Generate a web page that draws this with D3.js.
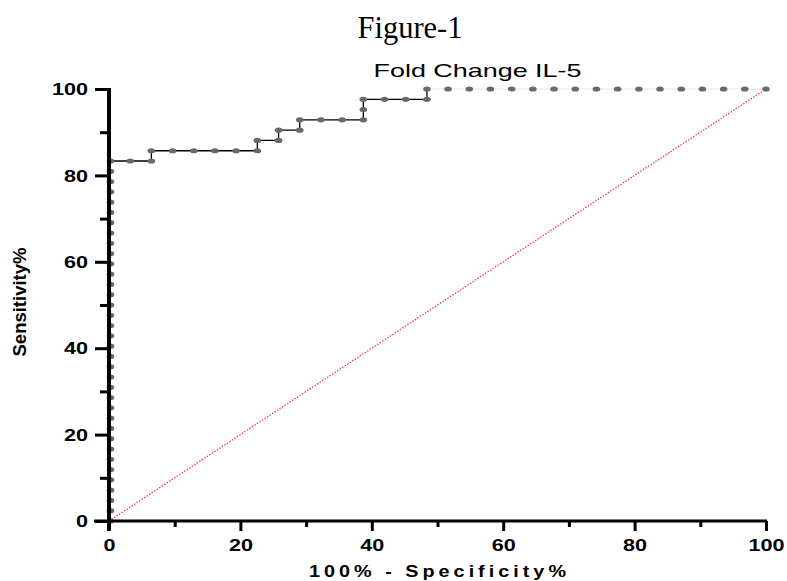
<!DOCTYPE html>
<html>
	<head>
		<title>Fold Change IL-5 ROC</title>

		<style>
		body {
			margin: 0;
			background: #fff;
		}

		svg {
			display: block;
		}

		.tick line {
			stroke: #000;
		}

		.tick text {
			font-family: "Liberation Sans", Arial, sans-serif;
			font-weight: bold;
			font-size: 16px;
			fill: #000;
		}
		</style>

		<script src="https://d3js.org/d3.v7.min.js"></script>
	</head>
	<body>
		<svg id="roc" width="787" height="581"></svg>

		<script>
		// 100% - specificity and sensitivity of each ROC point (percent)
		var fpr = [
			0, 0, 0, 0, 0, 0, 0, 0, 0, 0, 0, 0,
			0, 0, 0, 0, 0, 0, 0, 0, 0, 0, 0, 0,
			0, 0, 0, 0, 0, 0, 0, 0, 0, 0, 0, 0,
			3.23, 6.45, 6.45, 9.68, 12.90, 16.13, 19.35, 22.58, 22.58, 25.81,
			25.81, 29.03, 29.03, 32.26, 35.48, 38.71, 38.71, 38.71, 41.94, 45.16,
			48.39, 48.39,
			51.61, 54.84, 58.06, 61.29, 64.52, 67.74, 70.97, 74.19, 77.42, 80.65,
			83.87, 87.10, 90.32, 93.55, 96.77, 100
		];

		var sensitivity = [
			0, 2.38, 4.76, 7.14, 9.52, 11.90, 14.29, 16.67, 19.05, 21.43, 23.81, 26.19,
			28.57, 30.95, 33.33, 35.71, 38.10, 40.48, 42.86, 45.24, 47.62, 50.00, 52.38, 54.76,
			57.14, 59.52, 61.90, 64.29, 66.67, 69.05, 71.43, 73.81, 76.19, 78.57, 80.95, 83.33,
			83.33, 83.33, 85.71, 85.71, 85.71, 85.71, 85.71, 85.71, 88.10, 88.10,
			90.48, 90.48, 92.86, 92.86, 92.86, 92.86, 95.24, 97.62, 97.62, 97.62,
			97.62, 100,
			100, 100, 100, 100, 100, 100, 100, 100, 100, 100,
			100, 100, 100, 100, 100, 100
		];

		var majorTicks = [0, 20, 40, 60, 80, 100];
		var minorTicks = [10, 30, 50, 70, 90];
		var referenceLine = [0, 100];

		var figureTitle = 'Figure-1';
		var chartTitle = 'Fold Change IL-5';
		var xTitle = '100% - Specificity%';
		var yTitle = 'Sensitivity%';

		function drawRoc () {
			var	svg	= d3.select('#roc'),
				x	= d3.scaleLinear().domain([0, 100]).range([109, 766]),
				y	= d3.scaleLinear().domain([0, 100]).range([521, 89]);

			var points = fpr.map(function (d, i) { return [d, sensitivity[i]]; });
			var firstTop = sensitivity.indexOf(100);

			var line = d3.line()
				.x(function (d) { return x(d[0]); })
				.y(function (d) { return y(d[1]); });

			// chance diagonal
			svg.append('path')
				.datum(referenceLine.map(function (d) { return [d, d]; }))
				.attr('d', line)
				.attr('fill', 'none')
				.attr('stroke', '#ff3030')
				.attr('stroke-width', 1.2)
				.attr('stroke-dasharray', '1.5,1.5');

			svg.append('path')
				.datum(points.slice(0, firstTop + 1))
				.attr('d', line)
				.attr('fill', 'none')
				.attr('stroke', '#000')
				.attr('stroke-width', 1.3);

			svg.append('path')
				.datum(points.slice(firstTop))
				.attr('d', line)
				.attr('fill', 'none')
				.attr('stroke', '#e4e4e4')
				.attr('stroke-width', 1);

			svg.append('g')
				.selectAll('ellipse')
				.data(points)
				.enter()
				.append('ellipse')
				.attr('cx', function (d) { return x(d[0]) + (d[0] === 0 ? 1.5 : 0); })
				.attr('cy', function (d) { return y(d[1]); })
				.attr('rx', 3.8)
				.attr('ry', 2.6)
				.attr('fill', '#6a6a6a');

			// y axis
			var yMajor = svg.append('g')
				.attr('transform', 'translate(' + x(0) + ',0)')
				.call(d3.axisLeft(y).tickValues(majorTicks).tickSize(14).tickSizeOuter(0).tickPadding(7));
			yMajor.selectAll('line').attr('stroke-width', 3);
			yMajor.selectAll('text')
				.attr('transform', 'scale(1.35,1)')
				.attr('x', -21 / 1.35)
				.attr('dy', '0.36em');

			var yMinor = svg.append('g')
				.attr('transform', 'translate(' + x(0) + ',0)')
				.call(d3.axisLeft(y).tickValues(minorTicks).tickSize(9).tickSizeOuter(0).tickFormat(''));
			yMinor.selectAll('line').attr('stroke-width', 3);

			// x axis
			var xMajor = svg.append('g')
				.attr('transform', 'translate(0,' + y(0) + ')')
				.call(d3.axisBottom(x).tickValues(majorTicks).tickSize(10).tickSizeOuter(0).tickPadding(9));
			xMajor.selectAll('line').attr('stroke-width', 3);
			xMajor.selectAll('text')
				.attr('transform', 'scale(1.35,1)')
				.attr('dy', '0.71em');

			var xMinor = svg.append('g')
				.attr('transform', 'translate(0,' + y(0) + ')')
				.call(d3.axisBottom(x).tickValues(minorTicks).tickSize(6).tickSizeOuter(0).tickFormat(''));
			xMinor.selectAll('line').attr('stroke-width', 3);

			svg.selectAll('.domain').remove();

			svg.append('line')
				.attr('x1', x(0) - 15).attr('x2', x(100) + 1)
				.attr('y1', y(0)).attr('y2', y(0))
				.attr('stroke', '#000')
				.attr('stroke-width', 3);

			svg.append('line')
				.attr('x1', x(0)).attr('x2', x(0))
				.attr('y1', y(100) - 1).attr('y2', y(0) + 10)
				.attr('stroke', '#000')
				.attr('stroke-width', 4);

			// titles
			svg.append('text')
				.attr('x', 410).attr('y', 38)
				.attr('text-anchor', 'middle')
				.attr('font-family', '"Liberation Serif", "Times New Roman", serif')
				.attr('font-size', 31)
				.attr('textLength', 105)
				.attr('lengthAdjust', 'spacingAndGlyphs')
				.text(figureTitle);

			svg.append('text')
				.attr('x', (x(0) + x(100)) / 2 + 40).attr('y', 77)
				.attr('text-anchor', 'middle')
				.attr('font-family', '"Liberation Sans", Arial, sans-serif')
				.attr('font-size', 19)
				.attr('textLength', 208)
				.attr('lengthAdjust', 'spacingAndGlyphs')
				.text(chartTitle);

			svg.append('text')
				.attr('transform', 'translate(' + (x(0) + x(100)) / 2 + ',577) scale(1.2,1)')
				.attr('text-anchor', 'middle')
				.attr('font-family', '"Liberation Sans", Arial, sans-serif')
				.attr('font-weight', 'bold')
				.attr('font-size', 16.5)
				.attr('textLength', 257 / 1.2)
				.attr('lengthAdjust', 'spacing')
				.text(xTitle);

			svg.append('text')
				.attr('transform', 'translate(26,' + (y(50) - 3) + ') rotate(-90)')
				.attr('text-anchor', 'middle')
				.attr('font-family', '"Liberation Sans", Arial, sans-serif')
				.attr('font-weight', 'bold')
				.attr('font-size', 19)
				.attr('textLength', 109)
				.attr('lengthAdjust', 'spacingAndGlyphs')
				.text(yTitle);
		}

		drawRoc();
		</script>
	</body>
</html>
